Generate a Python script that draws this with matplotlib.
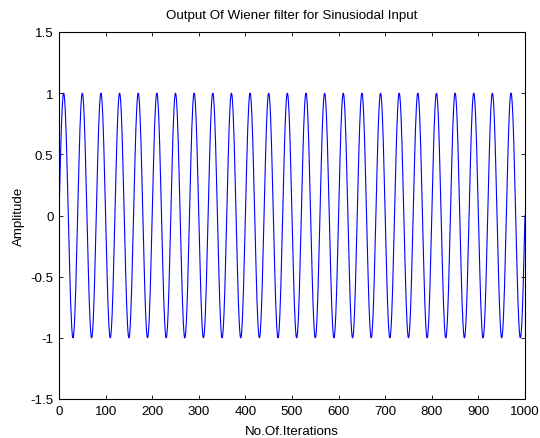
import numpy as np
import matplotlib
matplotlib.use("Agg")
import matplotlib.pyplot as plt

plt.rcParams['font.family'] = ['Liberation Sans', 'DejaVu Sans']

# One cycle of the filter output (40 iterations)
cycle_values = [0.00, 0.16, 0.31, 0.45, 0.59, 0.71, 0.81, 0.89, 0.95, 0.99,
                1.00, 0.99, 0.95, 0.89, 0.81, 0.71, 0.59, 0.45, 0.31, 0.16,
                0.00, -0.16, -0.31, -0.45, -0.59, -0.71, -0.81, -0.89, -0.95, -0.99,
                -1.00, -0.99, -0.95, -0.89, -0.81, -0.71, -0.59, -0.45, -0.31, -0.16]
n_cycles = 25
output = list(np.tile(cycle_values, n_cycles)) + [0.00]
iterations = np.arange(len(output))

x_ticks = [0, 100, 200, 300, 400, 500, 600, 700, 800, 900, 1000]
y_ticks = [-1.5, -1, -0.5, 0, 0.5, 1, 1.5]
y_ticklabels = ['-1.5', '-1', '-0.5', '0', '0.5', '1', '1.5']

fs = 9.6
fig = plt.figure(figsize=(5.40, 4.39), dpi=100)
ax = fig.add_axes([59/540, 39/439, (525-59)/540, (400-33)/439])
ax.plot(iterations, output, color=(0, 0, 1), lw=0.8)
ax.set_xlim(0, 1000)
ax.set_ylim(-1.5, 1.5)
ax.set_xticks(x_ticks)
ax.set_yticks(y_ticks)
ax.set_yticklabels(y_ticklabels)
ax.tick_params(direction='in', length=3, width=0.6, top=True, right=True,
               labelsize=fs, pad=4, colors='black')
for s in ax.spines.values():
    s.set_linewidth(0.8)
ax.set_title('Output Of Wiener filter for Sinusiodal Input', fontsize=fs, pad=10)
ax.set_xlabel('No.Of.Iterations', fontsize=fs, labelpad=6)
ax.set_ylabel('Amplitude', fontsize=fs, labelpad=4)
fig.savefig('out.png', dpi=100, facecolor='white')
